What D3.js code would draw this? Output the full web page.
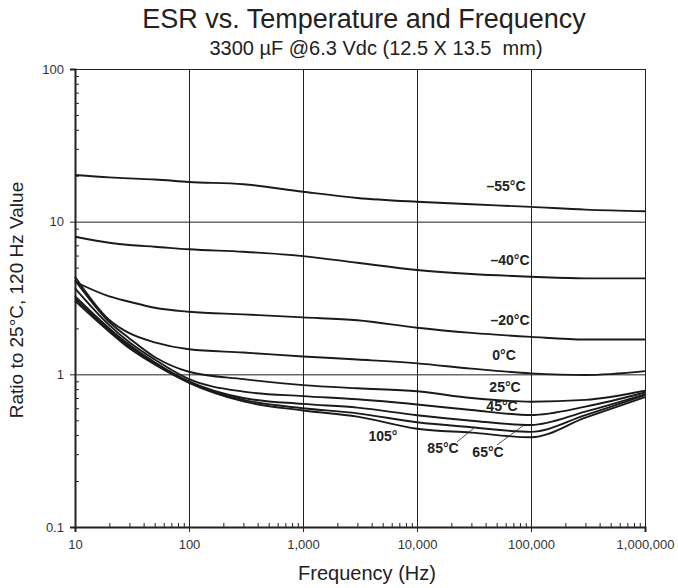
<!DOCTYPE html>
<html>
<head>
<meta charset="utf-8">
<script src="https://cdn.jsdelivr.net/npm/d3@7"></script>
<style>
body { margin: 0; background: #fff; }
text { font-family: "Liberation Sans", Arial, sans-serif; fill: #222; }
.lbl { font-weight: bold; font-size: 14px; }
.tick text { font-size: 13px; fill: #333; }
</style>
</head>
<body>
<svg id="chart" width="678" height="588"></svg>
<script>
// frequencies (Hz) the curves were read at
var freqs = [10, 20, 30, 50, 100, 300, 1000, 3000, 10000, 30000, 100000, 300000, 1000000];

// ESR ratio to 25C/120Hz, per temperature
var tM55 = [20.2, 19.5, 19.2, 18.9, 18.2, 17.6, 15.7, 14.3, 13.5, 13.0, 12.5, 12.0, 11.7];
var tM40 = [7.96, 7.27, 7.03, 6.85, 6.59, 6.35, 5.95, 5.38, 4.82, 4.54, 4.36, 4.25, 4.25];
var tM20 = [4.04, 3.24, 2.99, 2.73, 2.57, 2.47, 2.36, 2.26, 2.02, 1.87, 1.76, 1.69, 1.69];
var t0   = [4.36, 2.27, 1.86, 1.62, 1.46, 1.39, 1.31, 1.25, 1.18, 1.09, 1.015, 0.99, 1.05];
var t25  = [4.14, 2.2, 1.72, 1.3, 1.04, 0.93, 0.85, 0.81, 0.775, 0.70, 0.662, 0.68, 0.78];
var t45  = [3.66, 2.1, 1.62, 1.25, 0.93, 0.77, 0.72, 0.686, 0.635, 0.584, 0.541, 0.614, 0.76];
var t65  = [3.25, 2.0, 1.56, 1.2, 0.90, 0.70, 0.64, 0.605, 0.54, 0.497, 0.466, 0.57, 0.74];
var t85  = [3.14, 1.95, 1.52, 1.18, 0.89, 0.68, 0.60, 0.555, 0.485, 0.45, 0.42, 0.54, 0.73];
var t105 = [3.03, 1.9, 1.48, 1.16, 0.88, 0.665, 0.58, 0.528, 0.44, 0.415, 0.387, 0.52, 0.71];

var series = [tM55, tM40, tM20, t0, t25, t45, t65, t85, t105];

var xMajor = [10, 100, 1000, 10000, 100000, 1000000];
var xMajorLabels = ["10", "100", "1,000", "10,000", "100,000", "1,000,000"];
var yMajor = [0.1, 1, 10, 100];
var yMajorLabels = ["0.1", "1", "10", "100"];

var svg = d3.select("#chart");
var L = 75, R = 645, T = 69, B = 527;

var x = d3.scaleLog().domain([10, 1000000]).range([L, R]);
var y = d3.scaleLog().domain([0.1, 100]).range([B, T]);

// minor ticks 2..9 of each decade
var xMinor = x.ticks().filter(function(v){ return xMajor.indexOf(v) < 0; });
var yMinor = y.ticks().filter(function(v){ return yMajor.indexOf(Math.round(v*1000)/1000) < 0; });

// grid
svg.append("g").attr("transform", "translate(0," + B + ")")
  .call(d3.axisBottom(x).tickValues(xMajor.slice(1)).tickSize(-(B - T)).tickFormat(""))
  .call(function(g){ g.select(".domain").remove(); g.selectAll("line").attr("stroke", "#222").attr("stroke-width", 1); });
svg.append("g").attr("transform", "translate(" + L + ",0)")
  .call(d3.axisLeft(y).tickValues(yMajor.slice(1)).tickSize(-(R - L)).tickFormat(""))
  .call(function(g){ g.select(".domain").remove(); g.selectAll("line").attr("stroke", "#222").attr("stroke-width", 1); });

// minor ticks inside
svg.append("g").attr("transform", "translate(0," + B + ")")
  .call(d3.axisBottom(x).tickValues(xMinor).tickSize(-4).tickFormat(""))
  .call(function(g){ g.select(".domain").remove(); g.selectAll("line").attr("stroke", "#222"); });
svg.append("g").attr("transform", "translate(" + L + ",0)")
  .call(d3.axisLeft(y).tickValues(yMinor).tickSize(-4).tickFormat(""))
  .call(function(g){ g.select(".domain").remove(); g.selectAll("line").attr("stroke", "#222"); });

// main axes
svg.append("g").attr("transform", "translate(0," + B + ")")
  .call(d3.axisBottom(x).tickValues(xMajor).tickSize(5).tickPadding(8)
    .tickFormat(function(d, i){ return xMajorLabels[i]; }))
  .call(function(g){
    g.select(".domain").attr("stroke", "#222").attr("stroke-width", 2);
    g.selectAll("line").attr("stroke", "#222");
  });
svg.append("g").attr("transform", "translate(" + L + ",0)")
  .call(d3.axisLeft(y).tickValues(yMajor).tickSize(5).tickPadding(6)
    .tickFormat(function(d, i){ return yMajorLabels[i]; }))
  .call(function(g){
    g.select(".domain").attr("stroke", "#222").attr("stroke-width", 2);
    g.selectAll("line").attr("stroke", "#222");
  });

// curves
var line = d3.line()
  .x(function(d, i){ return x(freqs[i]); })
  .y(function(d){ return y(d); })
  .curve(d3.curveMonotoneX);

svg.append("g").selectAll("path").data(series).join("path")
  .attr("d", line)
  .attr("fill", "none")
  .attr("stroke", "#1a1a1a")
  .attr("stroke-width", 1.9);

// curve labels
var labels = [
  ["\u201355\u00b0C", 506, 191],
  ["\u201340\u00b0C", 510, 265],
  ["\u201320\u00b0C", 510, 325],
  ["0\u00b0C", 504, 360],
  ["25\u00b0C", 505, 392],
  ["45\u00b0C", 502, 411],
  ["105\u00b0", 383, 441],
  ["85\u00b0C", 443, 453],
  ["65\u00b0C", 488, 457]
];
svg.append("g").selectAll("text").data(labels).join("text")
  .attr("class", "lbl")
  .attr("x", function(d){ return d[1]; })
  .attr("y", function(d){ return d[2]; })
  .attr("text-anchor", "middle")
  .text(function(d){ return d[0]; });

// leader lines
svg.append("line").attr("x1", 457).attr("y1", 442).attr("x2", 474).attr("y2", 428)
  .attr("stroke", "#222").attr("stroke-width", 0.8);
svg.append("line").attr("x1", 497).attr("y1", 445).attr("x2", 524).attr("y2", 425)
  .attr("stroke", "#222").attr("stroke-width", 0.8);

// titles
svg.append("text").attr("x", 364).attr("y", 28).attr("text-anchor", "middle")
  .style("font-size", "27px").text("ESR vs. Temperature and Frequency");
svg.append("text").attr("x", 376).attr("y", 55).attr("text-anchor", "middle")
  .style("font-size", "20px").style("white-space", "pre")
  .text("3300 \u00b5F @6.3 Vdc (12.5 X 13.5  mm)");

svg.append("text").attr("x", 367).attr("y", 580).attr("text-anchor", "middle")
  .style("font-size", "20px").text("Frequency (Hz)");
svg.append("text").attr("transform", "translate(23,300) rotate(-90)").attr("text-anchor", "middle")
  .style("font-size", "19px").text("Ratio to 25\u00b0C, 120 Hz Value");
</script>
</body>
</html>
